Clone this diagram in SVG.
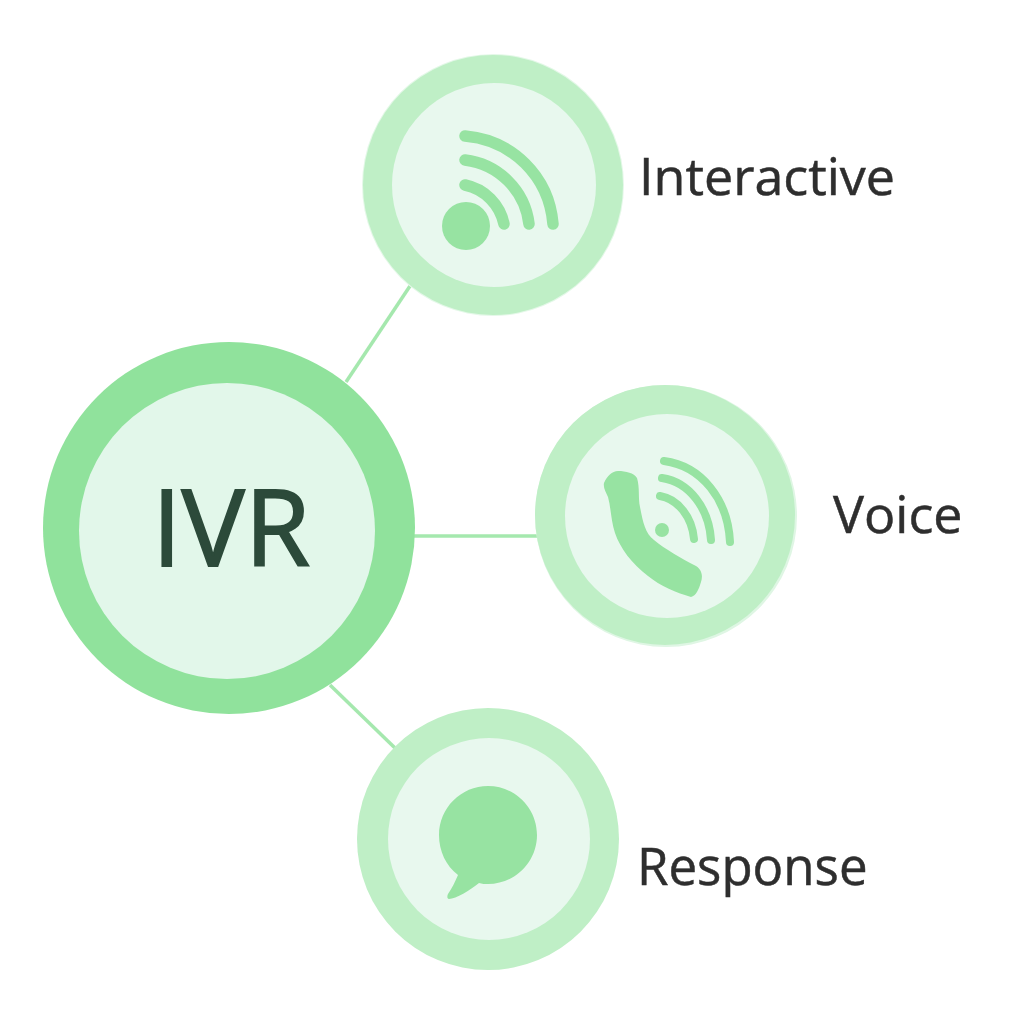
<svg xmlns="http://www.w3.org/2000/svg" width="1024" height="1024" viewBox="0 0 1024 1024">
<style>
.line{stroke:#a5e8ae;stroke-width:3.5;fill:none}
.outer{fill:#bfefc6}
.inner{fill:#e8f8ee}
.ic{fill:#97e3a2}
.arc{fill:none;stroke:#97e3a2;stroke-linecap:round}
.lbl{font-family:"Open Sans","Liberation Sans",sans-serif;fill:#2e2e2e;stroke:#2e2e2e;stroke-width:.5;font-size:52px}
</style>
<rect width="1024" height="1024" fill="#fff"/>
<g id="connectors">
<path class="line" d="M346 382L410 286"/>
<path class="line" d="M414 536H537"/>
<path class="line" d="M330 685L395 748"/>
</g>
<g id="ivr">
<circle cx="229" cy="528" r="186" fill="#90e29c"/>
<circle cx="227" cy="531" r="148" fill="#e2f7ea"/>
<text x="231" y="566" text-anchor="middle" font-family="Open Sans,Liberation Sans,sans-serif" font-size="106" fill="#2c4a3a" stroke="#2c4a3a" stroke-width="1.8">IVR</text>
</g>
<g id="interactive">
<circle cx="493" cy="185" r="131" fill="#e4f8e8"/>
<circle class="outer" cx="493" cy="185" r="130"/>
<circle class="inner" cx="494" cy="185" r="102"/>
<circle class="ic" cx="466" cy="226" r="24"/>
<path class="arc" stroke-width="11.5" d="M465 185C485 189 500 205 504 224"/>
<path class="arc" stroke-width="11.5" d="M465 160C498 164 525 190 529 224"/>
<path class="arc" stroke-width="11.5" d="M465 136C512 140 549 176 553 224"/>
<text class="lbl" x="639" y="195">Interactive</text>
</g>
<g id="voice">
<circle cx="666" cy="516" r="131" fill="#dff6e4"/>
<circle class="outer" cx="665" cy="515" r="130"/>
<circle class="inner" cx="667" cy="516" r="102"/>
<path class="ic" d="M604 483C607 476 612 471 618 471C626 471 634 473 637 478C640 488 638 498 640 507C643 522 645 533 654 540C665 549 682 559 696 566C702 570 703 576 701 582C699 589 696 596 691 597C677 593 660 586 648 576C632 564 620 548 615 533C611 521 611 508 608 497C606 492 603 488 604 483Z"/>
<circle class="ic" cx="662" cy="530" r="7"/>
<path class="arc" stroke-width="8" d="M660 496C678 499 692 517 694 539"/>
<path class="arc" stroke-width="8" d="M662 478C689 482 709 508 711 540"/>
<path class="arc" stroke-width="8" d="M664 461C702 466 728 500 730 542"/>
<text class="lbl" x="833" y="533">Voice</text>
</g>
<g id="response">
<circle class="outer" cx="488" cy="839" r="131"/>
<circle class="inner" cx="489" cy="839" r="101"/>
<path class="ic" d="M488 786C515 786 537 808 537 835C537 862 515 884 488 884C485 884 482 884 479 883C470 890 456 899 449 899C447 899 447 896 448 894C452 888 455 882 458 875C446 866 439 851 439 835C439 808 461 786 488 786Z"/>
<text class="lbl" x="637" y="885" style="font-size:51px">Response</text>
</g>
</svg>
